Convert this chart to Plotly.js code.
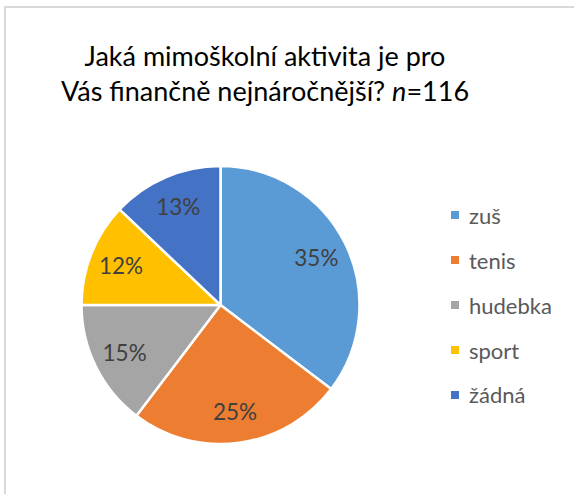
<!DOCTYPE html>
<html>
<head>
<meta charset="utf-8">
<script src="https://cdn.plot.ly/plotly-3.0.1.min.js"></script>
<style>
  html, body { margin: 0; padding: 0; background: #fff; }
  #wrap { position: relative; width: 574px; height: 494px; overflow: hidden; }
  #chart { position: absolute; left: 0; top: 0; width: 574px; height: 494px; }
  #frame { position: absolute; left: 4px; top: 6px; width: 800px; height: 800px;
           border-top: 2px solid #d9d9d9; border-left: 2px solid #d9d9d9; pointer-events: none; }
</style>
</head>
<body>
<div id="wrap">
  <div id="chart"></div>
  <div id="frame"></div>
</div>
<script>
// Data
const categories = ["zuš", "tenis", "hudebka", "sport", "žádná"];
const counts = [41, 29, 17, 14, 15]; // n = 116
const colors = ["#5B9BD5", "#ED7D31", "#A5A5A5", "#FFC000", "#4472C4"];
const titleText = "Jaká mimoškolní aktivita je pro<br>Vás finančně nejnáročnější? <i>n</i>=116";

const W = 574, H = 494;
const FONT = "Lato, 'Open Sans', sans-serif";
const pieDomain = { x: [81 / W, 360 / W], y: [(H - 444) / H, (H - 166) / H] };

// Coloured slices
const slices = {
  type: "pie",
  labels: categories,
  values: counts,
  sort: false,
  direction: "clockwise",
  rotation: 0,
  marker: { colors: colors, line: { color: "#ffffff", width: 2.5 } },
  textinfo: "none",
  hoverinfo: "none",
  showlegend: false,
  domain: pieDomain
};

// Transparent ring on top, only to place the percentage labels further out
const labelsRing = {
  type: "pie",
  labels: categories,
  values: counts,
  sort: false,
  direction: "clockwise",
  rotation: 0,
  hole: 0.54,
  marker: { colors: categories.map(() => "rgba(0,0,0,0)"), line: { width: 0 } },
  texttemplate: "%{percent:.0%}",
  textposition: "inside",
  insidetextorientation: "horizontal",
  textfont: { family: FONT, size: 22.5, color: "#404040" },
  hoverinfo: "none",
  showlegend: false,
  domain: pieDomain
};

// Legend built from the category/colour arrays
const legendTop = 215, legendStep = 45;
const shapes = [], annotations = [];
categories.forEach((c, i) => {
  const yc = legendTop + i * legendStep;
  shapes.push({
    type: "rect", xref: "paper", yref: "paper",
    x0: 451 / W, x1: 459 / W,
    y0: (H - yc - 4) / H, y1: (H - yc + 4) / H,
    fillcolor: colors[i], line: { width: 0 }
  });
  annotations.push({
    xref: "paper", yref: "paper", showarrow: false,
    x: 467 / W, y: (H - yc) / H, xanchor: "left", yanchor: "middle",
    text: c, font: { family: FONT, size: 22, color: "#595959" }
  });
});

const layout = {
  width: W, height: H,
  margin: { l: 0, r: 0, t: 0, b: 0 },
  paper_bgcolor: "#ffffff",
  title: {
    text: titleText,
    x: 265 / W, xanchor: "center", xref: "paper",
    y: (H - 66) / H, yanchor: "top", yref: "paper",
    font: { family: FONT, size: 27, color: "#000000" }
  },
  shapes: shapes,
  annotations: annotations
};

Plotly.newPlot("chart", [slices, labelsRing], layout, { displayModeBar: false, staticPlot: true });
</script>
</body>
</html>
